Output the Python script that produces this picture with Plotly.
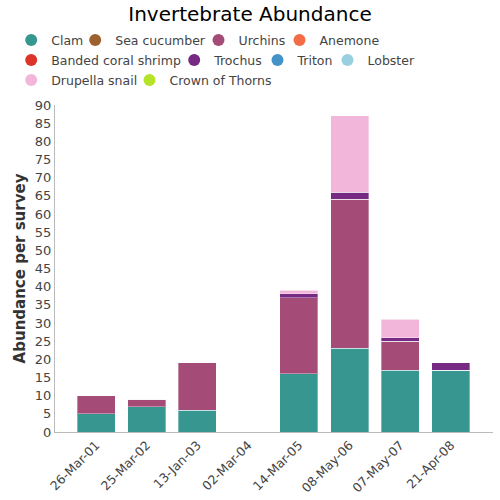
import plotly.graph_objects as go

dates = ["26-Mar-01", "25-Mar-02", "13-Jan-03", "02-Mar-04", "14-Mar-05", "08-May-06", "07-May-07", "21-Apr-08"]
species = ["Clam", "Sea cucumber", "Urchins", "Anemone", "Banded coral shrimp", "Trochus",
           "Triton", "Lobster", "Drupella snail", "Crown of Thorns"]
colors = ["#37968f", "#9b6230", "#a44c77", "#f36c45", "#dd3429", "#772a84",
          "#4493c8", "#98d0df", "#f2b6da", "#b5e325"]
clam = [5, 7, 6, 0, 16, 23, 17, 17]
sea_cucumber = [0, 0, 0, 0, 0, 0, 0, 0]
urchins = [5, 2, 13, 0, 21, 41, 8, 0]
anemone = [0, 0, 0, 0, 0, 0, 0, 0]
banded_shrimp = [0, 0, 0, 0, 0, 0, 0, 0]
trochus = [0, 0, 0, 0, 1, 2, 1, 2]
triton = [0, 0, 0, 0, 0, 0, 0, 0]
lobster = [0, 0, 0, 0, 0, 0, 0, 0]
drupella = [0, 0, 0, 0, 1, 21, 5, 0]
crown_of_thorns = [0, 0, 0, 0, 0, 0, 0, 0]
values = [clam, sea_cucumber, urchins, anemone, banded_shrimp, trochus,
          triton, lobster, drupella, crown_of_thorns]
y_ticks = list(range(0, 95, 5))

# legend layout (pixel positions of each entry's label start and row centre)
legend_text_px = [57.7, 107.7, 217, 284, 57.7, 206.7, 276, 332, 57.7, 162]
legend_row_px = [40.3, 40.3, 40.3, 40.3, 60.3, 60.3, 60.3, 60.3, 80.3, 80.3]
legend_slot = [0, 1, 2, 3, 0, 1, 2, 3, 0, 1]

W, H = 500, 500
ML, MR, MT, MB = 55, 7, 105, 68
PW, PH = W - ML - MR, H - MT - MB

fig = go.Figure()
for name, col, vals in zip(species, colors, values):
    fig.add_trace(go.Bar(
        x=dates, y=vals, name=name, showlegend=False,
        marker=dict(color=col, line=dict(color="rgba(255,255,255,0.35)", width=1)),
        width=0.75,
    ))

legends = {}
for i, (name, col) in enumerate(zip(species, colors)):
    key = "legend" if i == 0 else f"legend{i + 1}"
    fig.add_trace(go.Scatter(
        x=[None], y=[None], mode="markers", name=name, legend=key,
        marker=dict(color=col, size=10, symbol="circle"),
    ))
    left_px = legend_text_px[i] + 14 * legend_slot[i] - 6 - 40.5
    legends[key] = dict(
        orientation="h", xanchor="left", yanchor="middle",
        x=(left_px - ML) / PW, y=(H - MB - legend_row_px[i]) / PH,
        font=dict(size=12.5, color="#444"), bgcolor="rgba(0,0,0,0)",
        itemsizing="constant", borderwidth=0,
    )

fig.update_layout(
    width=W, height=H,
    barmode="stack",
    plot_bgcolor="white", paper_bgcolor="white",
    font=dict(family="DejaVu Sans", size=13, color="#444"),
    title=dict(text="Invertebrate Abundance", x=0.5, xanchor="center",
               y=1 - 13.5 / H, yanchor="middle",
               font=dict(size=20, color="black")),
    margin=dict(l=ML, r=MR, t=MT, b=MB, autoexpand=False),
    xaxis=dict(range=[-0.81, 7.83], tickangle=-45, showline=True, linecolor="#bbb",
               showgrid=False, ticks="", tickfont=dict(size=12.5, color="#444")),
    yaxis=dict(range=[0, 90], tickvals=y_ticks, showline=True, linecolor="#bbb",
               showgrid=False, zeroline=False, ticks="",
               tickfont=dict(size=13, color="#444"),
               title=dict(text="<b>Abundance per survey</b>", font=dict(size=15, color="#333"), standoff=5)),
    **legends,
)
fig.write_html("out.html", config={"displayModeBar": False},
               post_script="document.body.style.margin='0';")
